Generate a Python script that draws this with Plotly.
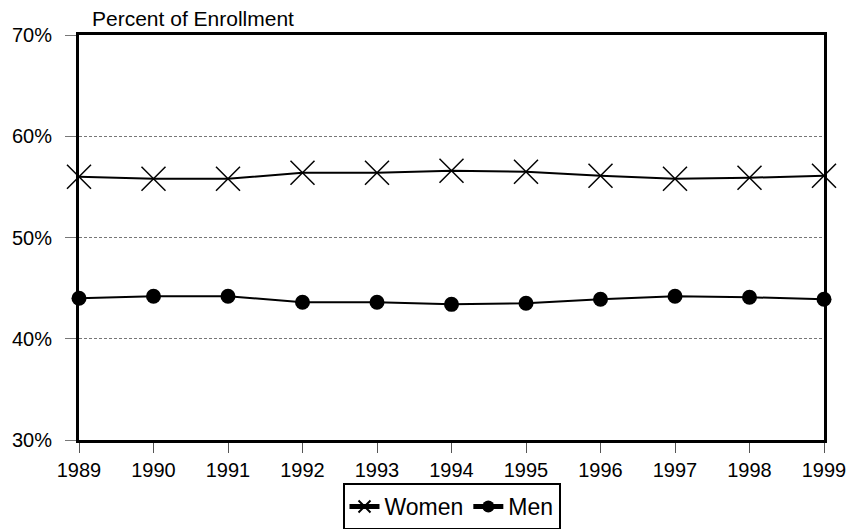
import plotly.graph_objects as go

years = [1989, 1990, 1991, 1992, 1993, 1994, 1995, 1996, 1997, 1998, 1999]
women = [56.0, 55.8, 55.8, 56.4, 56.4, 56.6, 56.5, 56.1, 55.8, 55.9, 56.1]
men = [44.0, 44.2, 44.2, 43.6, 43.6, 43.4, 43.5, 43.9, 44.2, 44.1, 43.9]
y_ticks = [30, 40, 50, 60, 70]
y_tick_labels = ["30%", "40%", "50%", "60%", "70%"]

FONT = "Liberation Sans, Arial, sans-serif"
W, H = 865, 529

fig = go.Figure()
fig.add_trace(go.Scatter(
    x=years, y=women, name="Women", mode="lines+markers",
    line=dict(color="black", width=2),
    marker=dict(symbol="x-thin-open", size=24, color="black",
                line=dict(color="black", width=1.5)),
    cliponaxis=False,
))
fig.add_trace(go.Scatter(
    x=years, y=men, name="Men", mode="lines+markers",
    line=dict(color="black", width=2),
    marker=dict(symbol="circle", size=15, color="black"),
    cliponaxis=False,
))

fig.update_layout(
    width=W, height=H,
    margin=dict(l=79, r=41, t=35, b=89, autoexpand=False),
    paper_bgcolor="white", plot_bgcolor="white",
    font=dict(family=FONT, size=20, color="black"),
    showlegend=True,
    legend=dict(
        orientation="h", xref="container", yref="container",
        x=451.5 / W, xanchor="center", y=1 - 483 / H, yanchor="top",
        bordercolor="black", borderwidth=2, font=dict(size=23),
        itemwidth=30, tracegroupgap=0, itemsizing="constant",
    ),
    xaxis=dict(
        range=[1989, 1999], tickmode="array", tickvals=years,
        ticktext=[str(y) for y in years], automargin=False,
        showgrid=False, zeroline=False,
        showline=True, linecolor="black", linewidth=3, mirror=True,
        ticks="outside", ticklen=10, tickcolor="#555", tickwidth=1,
    ),
    yaxis=dict(
        range=[30, 70], tickmode="array", tickvals=y_ticks, ticktext=y_tick_labels,
        automargin=False,
        showgrid=True, gridcolor="#777", gridwidth=1, griddash="3px,2px",
        zeroline=False,
        showline=True, linecolor="black", linewidth=3, mirror=True,
        ticks="outside", ticklen=11, tickcolor="#777", tickwidth=1,
        ticklabelstandoff=9,
    ),
    annotations=[dict(
        text="Percent of Enrollment", xref="paper", yref="paper",
        x=(90 - 79) / 745, y=1.0, xanchor="left", yanchor="bottom",
        yshift=3, showarrow=False, font=dict(size=21),
    )],
)

fig.write_html("out.html", config={"displayModeBar": False},
               post_script="document.body.style.margin='0';")
